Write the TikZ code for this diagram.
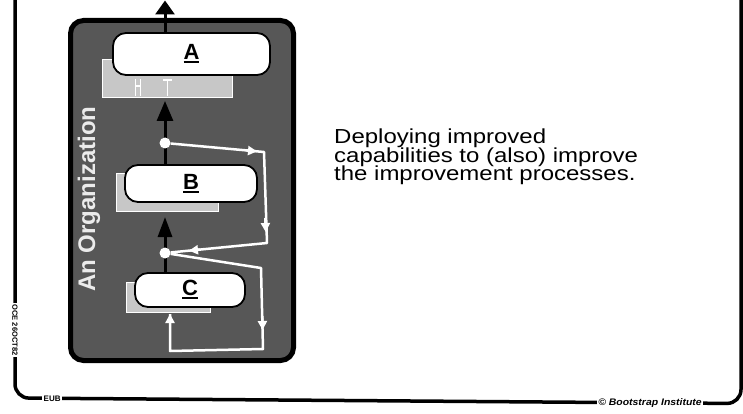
\documentclass[tikz,border=0pt]{standalone}
\usepackage{fontspec}
\setmainfont{Liberation Sans}
\usepackage{graphicx}
\usetikzlibrary{arrows.meta}
\newcommand\thickul[1]{\setbox0=\hbox{#1}\rlap{\rule[-3.5pt]{\wd0}{2.2pt}}\box0}
\begin{document}
\begin{tikzpicture}[x=1pt,y=-1pt,
  framel/.style={line width=3.5pt, rounded corners=14pt},
  framelbl/.style={fill=white, inner sep=1.5pt, font=\fontsize{7.5}{7.5}\selectfont\bfseries},
  org/.style={draw=black, line width=5pt, fill=black!66, rounded corners=13pt},
  orgname/.style={text=white!92!black, font=\fontsize{24}{24}\selectfont\bfseries, inner sep=0pt},
  stage/.style={draw=black, line width=1.8pt, fill=white, rounded corners=13pt, inner sep=0pt,
                font=\fontsize{22}{22}\selectfont\bfseries},
  shade/.style={fill=black!22, draw=white, line width=0.8pt},
  whitemark/.style={draw=white, line width=1.2pt},
  spine/.style={line width=3pt, draw=black},
  loop/.style={draw=white, line width=2.5pt, line join=round},
  loophead/.style={draw=white, line width=2.5pt, -{Triangle[length=9pt,width=9pt]}},
  dot/.style={circle, fill=white, inner sep=0pt, minimum size=11pt},
  txt/.style={anchor=base west, inner sep=0pt, font=\fontsize{19.5}{19.5}\selectfont}
]
\useasboundingbox (0,0) rectangle (743,414);

% outer frame
\draw[framel] (15,-4) -- (15,398) -- (741,403.5) -- (741,-4);
\node[framelbl, rotate=-90] (oce) at (15,330) {OCE 26OCT82};
\node[framelbl, anchor=west, font=\fontsize{8}{8}\selectfont\bfseries] (eub) at (42,398.3) {EUB};
\node[framelbl, font=\fontsize{9.5}{9.5}\selectfont\bfseries\itshape] (bi) at (650,402.6) {\scalebox{1.1}[1]{© Bootstrap Institute}};

% organization
\draw[org] (70.5,20.5) rectangle (293.5,360.5);
\node[orgname, rotate=90, anchor=base] (orgname) at (95,199) {An Organization};

% shadows
\path[shade] (102,59) rectangle (232,97);
\path[shade] (116,173) rectangle (218,211);
\path[shade] (126,282) rectangle (210,312);
\draw[whitemark] (135.5,79) -- (135.5,96) (140.5,79) -- (140.5,96) (135.5,86) -- (140.5,86);
\draw[whitemark] (163,80) -- (172,80) (167.5,80) -- (167.5,96);

% stages
\node[stage, minimum width=157pt, minimum height=42pt] (A) at (191.5,54) {\thickul{A}};
\node[stage, minimum width=132pt, minimum height=37pt] (B) at (191,183.5) {\thickul{B}};
\node[stage, minimum width=110pt, minimum height=34pt] (C) at (190,290) {\thickul{C}};

% spine
\coordinate (sp) at (165,0);
\coordinate (top) at (165,0.5);
\coordinate (tipA) at (165,101);
\coordinate (tipB) at (165,217);
\draw[spine, -{Triangle[length=14pt,width=19pt]}] (sp |- A.north) -- (top);
\draw[spine, -{Triangle[length=20pt,width=16pt]}] (sp |- B.north) -- (tipA);
\draw[spine, -{Triangle[length=20pt,width=14pt]}] (sp |- C.north) -- (tipB);

% feedback loop
\node[dot] (d1) at (165,143) {};
\node[dot] (d2) at (165,253) {};
\coordinate (L1) at (264,152);
\coordinate (L2) at (267,243);
\coordinate (L3) at (261,268);
\coordinate (L4) at (263,349);
\coordinate (L5) at (170,351);
\coordinate (tipC) at (170,314);
\draw[loop] (d1) -- (L1) -- (L2) -- (d2) -- (L3) -- (L4) -- (L5) -- (tipC);
\draw[loophead] (L5) -- (tipC);
\coordinate (h1a) at (246,150.4); \coordinate (h1b) at (257,151.4);
\coordinate (h2a) at (265.3,218); \coordinate (h2b) at (265.7,232);
\coordinate (h3a) at (200,249.6); \coordinate (h3b) at (189,250.7);
\coordinate (h4a) at (262.3,316); \coordinate (h4b) at (262.6,330);
\draw[loophead] (h1a) -- (h1b);
\draw[loophead] (h2a) -- (h2b);
\draw[loophead] (h3a) -- (h3b);
\draw[loophead] (h4a) -- (h4b);

% caption
\node[txt] (t1) at (334,143.3) {\scalebox{1.23}[1.04]{Deploying improved}};
\node[txt] (t2) at (334,162) {\scalebox{1.23}[1.04]{capabilities to (also) improve}};
\node[txt] (t3) at (334,180.7) {\scalebox{1.23}[1.04]{the improvement processes.}};
\end{tikzpicture}
\end{document}
